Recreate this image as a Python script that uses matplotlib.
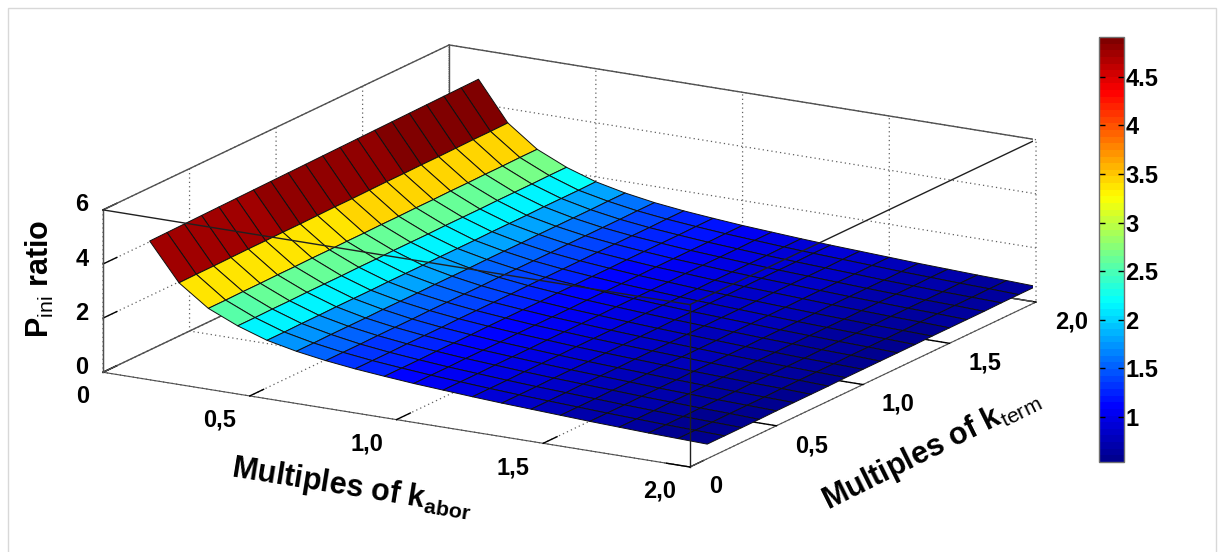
import matplotlib
matplotlib.use('Agg')
import numpy as np
from matplotlib import pyplot as plt
from matplotlib.cm import ScalarMappable
from matplotlib.colors import LinearSegmentedColormap, Normalize
from matplotlib.patches import Rectangle

kabor = [0.1, 0.2, 0.3, 0.4, 0.5, 0.6, 0.7, 0.8, 0.9, 1.0, 1.1, 1.2, 1.3, 1.4, 1.5, 1.6, 1.7, 1.8, 1.9, 2.0]
kterm = [0.1, 0.2, 0.3, 0.4, 0.5, 0.6, 0.7, 0.8, 0.9, 1.0, 1.1, 1.2, 1.3, 1.4, 1.5, 1.6, 1.7, 1.8, 1.9, 2.0]

# one row per kabor value, one column per kterm value
p_ratio = [
    [4.72, 4.73, 4.74, 4.75, 4.76, 4.77, 4.78, 4.79, 4.80, 4.81, 4.82, 4.83, 4.84, 4.85, 4.86, 4.87, 4.88, 4.89, 4.90, 4.91],
    [3.35, 3.36, 3.36, 3.37, 3.38, 3.38, 3.39, 3.39, 3.40, 3.41, 3.41, 3.42, 3.43, 3.43, 3.44, 3.44, 3.45, 3.46, 3.46, 3.47],
    [2.58, 2.58, 2.59, 2.59, 2.60, 2.60, 2.61, 2.61, 2.62, 2.62, 2.63, 2.63, 2.64, 2.64, 2.65, 2.65, 2.66, 2.66, 2.67, 2.67],
    [2.11, 2.11, 2.12, 2.12, 2.13, 2.13, 2.13, 2.14, 2.14, 2.15, 2.15, 2.15, 2.16, 2.16, 2.16, 2.17, 2.17, 2.17, 2.18, 2.18],
    [1.75, 1.75, 1.76, 1.76, 1.77, 1.77, 1.77, 1.78, 1.78, 1.78, 1.79, 1.79, 1.79, 1.80, 1.80, 1.80, 1.81, 1.81, 1.81, 1.82],
    [1.52, 1.52, 1.53, 1.53, 1.53, 1.54, 1.54, 1.54, 1.55, 1.55, 1.55, 1.56, 1.56, 1.56, 1.57, 1.57, 1.57, 1.57, 1.58, 1.58],
    [1.35, 1.35, 1.35, 1.36, 1.36, 1.36, 1.37, 1.37, 1.37, 1.37, 1.38, 1.38, 1.38, 1.38, 1.39, 1.39, 1.39, 1.39, 1.40, 1.40],
    [1.22, 1.22, 1.22, 1.23, 1.23, 1.23, 1.24, 1.24, 1.24, 1.24, 1.25, 1.25, 1.25, 1.25, 1.26, 1.26, 1.26, 1.26, 1.27, 1.27],
    [1.12, 1.12, 1.12, 1.13, 1.13, 1.13, 1.14, 1.14, 1.14, 1.14, 1.15, 1.15, 1.15, 1.15, 1.16, 1.16, 1.16, 1.16, 1.17, 1.17],
    [1.03, 1.03, 1.03, 1.04, 1.04, 1.04, 1.05, 1.05, 1.05, 1.05, 1.06, 1.06, 1.06, 1.06, 1.07, 1.07, 1.07, 1.07, 1.08, 1.08],
    [0.96, 0.96, 0.96, 0.97, 0.97, 0.97, 0.98, 0.98, 0.98, 0.98, 0.99, 0.99, 0.99, 0.99, 1.00, 1.00, 1.00, 1.00, 1.01, 1.01],
    [0.89, 0.89, 0.89, 0.90, 0.90, 0.90, 0.91, 0.91, 0.91, 0.91, 0.92, 0.92, 0.92, 0.92, 0.93, 0.93, 0.93, 0.93, 0.94, 0.94],
    [0.83, 0.83, 0.83, 0.84, 0.84, 0.84, 0.85, 0.85, 0.85, 0.85, 0.86, 0.86, 0.86, 0.86, 0.87, 0.87, 0.87, 0.87, 0.88, 0.88],
    [0.78, 0.78, 0.78, 0.79, 0.79, 0.79, 0.80, 0.80, 0.80, 0.80, 0.81, 0.81, 0.81, 0.81, 0.82, 0.82, 0.82, 0.82, 0.83, 0.83],
    [0.73, 0.73, 0.73, 0.74, 0.74, 0.74, 0.75, 0.75, 0.75, 0.75, 0.76, 0.76, 0.76, 0.76, 0.77, 0.77, 0.77, 0.77, 0.78, 0.78],
    [0.68, 0.68, 0.68, 0.69, 0.69, 0.69, 0.70, 0.70, 0.70, 0.70, 0.71, 0.71, 0.71, 0.71, 0.72, 0.72, 0.72, 0.72, 0.73, 0.73],
    [0.64, 0.64, 0.64, 0.65, 0.65, 0.65, 0.66, 0.66, 0.66, 0.66, 0.67, 0.67, 0.67, 0.67, 0.68, 0.68, 0.68, 0.68, 0.69, 0.69],
    [0.60, 0.60, 0.60, 0.61, 0.61, 0.61, 0.62, 0.62, 0.62, 0.62, 0.63, 0.63, 0.63, 0.63, 0.64, 0.64, 0.64, 0.64, 0.65, 0.65],
    [0.57, 0.57, 0.57, 0.58, 0.58, 0.58, 0.59, 0.59, 0.59, 0.59, 0.60, 0.60, 0.60, 0.60, 0.61, 0.61, 0.61, 0.61, 0.62, 0.62],
    [0.54, 0.54, 0.54, 0.54, 0.55, 0.55, 0.55, 0.55, 0.56, 0.56, 0.56, 0.56, 0.56, 0.57, 0.57, 0.57, 0.57, 0.58, 0.58, 0.58],
]

ticks_xy = [0, 0.5, 1.0, 1.5, 2.0]
ticks_xy_labels = ['0', '0,5', '1,0', '1,5', '2,0']
ticks_z = [0, 2, 4, 6]
cbar_ticks = [1, 1.5, 2, 2.5, 3, 3.5, 4, 4.5]
cbar_labels = ['1', '1.5', '2', '2.5', '3', '3.5', '4', '4.5']
clim = (0.536, 4.91)

W, H = 1223, 552
line_col = '#505050'

plt.rcParams['font.family'] = ['Liberation Sans', 'DejaVu Sans']
plt.rcParams['font.weight'] = 'bold'
plt.rcParams['mathtext.fontset'] = 'custom'
plt.rcParams['mathtext.rm'] = 'Liberation Sans:normal'
plt.rcParams['mathtext.bf'] = 'Liberation Sans:bold'
plt.rcParams['grid.linestyle'] = (0, (1, 2.5))
plt.rcParams['grid.color'] = '#606060'
plt.rcParams['grid.linewidth'] = 0.9

fig = plt.figure(figsize=(W / 100, H / 100), dpi=100)
fig.add_artist(Rectangle((8 / W, -0.1), 1208 / W, 1.1 - 8 / H, transform=fig.transFigure,
                         facecolor='white', edgecolor='#d8d8d8', linewidth=1.0, zorder=-1))

# square axes because mplot3d forces it, placed in pixels so the box lands on the reference
side = 952.7
ax = fig.add_axes([80.3 / W, -193.2 / H, side / W, side / H], projection='3d', proj_type='ortho',
                  computed_zorder=False)
ax.view_init(elev=16.1, azim=-59.8)
ax.set_box_aspect((679, 688, 169))
ax.patch.set_visible(False)
ax.set_xlim(0, 2, view_margin=0)
ax.set_ylim(0, 2, view_margin=0)
ax.set_zlim(0, 6, view_margin=0)

ax.set_xticks(ticks_xy, labels=ticks_xy_labels)
ax.set_yticks(ticks_xy, labels=ticks_xy_labels)
ax.set_zticks(ticks_z)
ax.tick_params(axis='both', labelsize=17, colors='black', width=1.0)
ax.tick_params(axis='x', pad=6)
ax.tick_params(axis='z', pad=0)
ax.zaxis.set_ticks_position('lower')
for axis in (ax.xaxis, ax.yaxis, ax.zaxis):
    axis.set_pane_color((1, 1, 1, 0))
    axis.pane.set_edgecolor((1, 1, 1, 0))
    axis.line.set_color(line_col)
    axis._axinfo['tick']['inward_factor'] = 0
    axis._axinfo['tick']['outward_factor'] = 0.5
    axis._axinfo['tick']['linewidth'] = {True: 1.0, False: 0.5}
    axis._axinfo['tick']['color'] = line_col
plt.setp(ax.get_xticklabels(), ha='right')
plt.setp(ax.get_yticklabels(), ha='left')
plt.setp(ax.get_zticklabels(), va='baseline')

# box edges, back ones go under the surface and front ones over it
back = [([0, 2], [2, 2], [0, 0]), ([0, 0], [0, 2], [0, 0]), ([0, 2], [2, 2], [6, 6]), ([0, 0], [0, 2], [6, 6]),
        ([0, 0], [2, 2], [0, 6]), ([2, 2], [2, 2], [0, 6]), ([0, 0], [0, 0], [0, 6])]
front = [([0, 2], [0, 0], [6, 6]), ([2, 2], [0, 2], [6, 6]), ([2, 2], [0, 0], [0, 6])]
for xs, ys, zs in back:
    ax.plot(xs, ys, zs, color=line_col, lw=1.0, zorder=1)

X, Y = np.meshgrid(kabor, kterm, indexing='ij')
Z = np.array(p_ratio)
norm = Normalize(*clim)
# matlab flavour of jet, the matplotlib one has its yellow somewhere else
jet = LinearSegmentedColormap.from_list('matlab_jet', [(0, '#00008f'), (0.125, '#0000ff'), (0.375, '#00ffff'),
                                                       (0.625, '#ffff00'), (0.875, '#ff0000'), (1, '#800000')], N=64)
ax.plot_surface(X, Y, Z, rstride=1, cstride=1, facecolors=jet(norm(Z)), shade=False,
                edgecolor='#101010', linewidth=0.7, antialiased=True, zorder=2)

for xs, ys, zs in front:
    ax.plot(xs, ys, zs, color='#202020', lw=1.0, zorder=3)

fig.text(352 / W, 1 - 488 / H, r'Multiples of k$_{\mathbf{abor}}$', fontsize=22, rotation=-9.2,
         ha='center', va='center', rotation_mode='anchor')
fig.text(931 / W, 1 - 450 / H, r'Multiples of k$_{\mathrm{term}}$', fontsize=22, rotation=26.5,
         ha='center', va='center', rotation_mode='anchor')
fig.text(40 / W, 1 - 279 / H, r'P$_{\mathrm{ini}}$ ratio', fontsize=22, rotation=90,
         ha='center', va='center', rotation_mode='anchor')

cax = fig.add_axes([1099 / W, 1 - 462 / H, 25 / W, 425 / H])
cb = fig.colorbar(ScalarMappable(norm=norm, cmap=jet), cax=cax, ticks=cbar_ticks)
cb.ax.set_yticklabels(cbar_labels)
cb.ax.tick_params(labelsize=17, direction='in', length=4, width=1.0, left=True, right=True, pad=1)
cb.outline.set_edgecolor('#707070')
cb.outline.set_linewidth(1.0)

fig.savefig('out.png', dpi=100)
